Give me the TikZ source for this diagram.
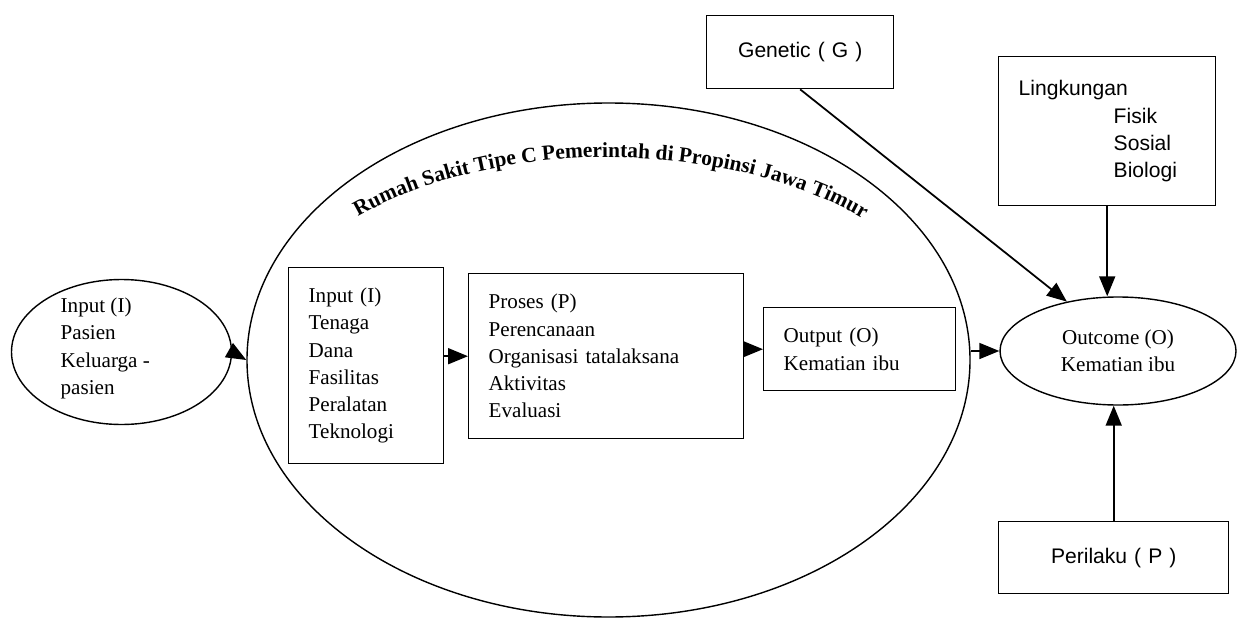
\documentclass[tikz,border=0pt]{standalone}
\usepackage{fontspec}
\setmainfont{Liberation Serif}
\newfontfamily\sansfont{Liberation Sans}
\usetikzlibrary{arrows.meta,shapes.geometric,decorations.text,positioning}

\begin{document}
\begin{tikzpicture}[line width=0.8pt,
  every node/.style={font=\fontsize{12}{15.5}\selectfont},
  sans/.style={font=\sansfont\fontsize{12}{15.5}\selectfont},
  kotak/.style={draw, rectangle, anchor=north west, align=left, inner xsep=0.4cm, inner ysep=0pt},
  lonjong/.style={draw, ellipse, inner sep=0pt},
  panah/.style={-{Triangle[length=0.4cm,width=0.32cm]}, line width=1pt}]
\useasboundingbox (0,0) rectangle (24.78,-12.36);

\node[lonjong, minimum width=4.4cm, minimum height=2.9cm] (pasien) at (2.43,-7.04) {};
\node[align=left, anchor=west, inner sep=0pt] (pasienteks) at (1.2,-6.97)
  {Input (I)\\Pasien\\Keluarga -\\pasien};
\node[lonjong, minimum width=14.46cm, minimum height=10.28cm] (rs) at (12.17,-7.2) {};
\path[decorate, decoration={text along path, text align=center,
  text={|\fontsize{12.2}{14}\selectfont\bfseries|Rumah Sakit Tipe C Pemerintah di Propinsi Jawa Timur}}]
  (rs.center) ++(138:7.1cm and 4.05cm) arc[start angle=138, end angle=41, x radius=7.1cm, y radius=4.05cm];

\node[kotak, text width=2.3cm, minimum height=3.92cm] (input) at (5.76,-5.34)
  {Input (I)\\Tenaga\\Dana\\Fasilitas\\Peralatan\\Teknologi};
\node[kotak, text width=4.7cm, minimum height=3.3cm] (proses) at (9.36,-5.46)
  {Proses (P)\\Perencanaan\\Organisasi tatalaksana\\Aktivitas\\Evaluasi};
\node[kotak, text width=3.04cm, minimum height=1.66cm] (output) at (15.26,-6.14)
  {Output (O)\\Kematian ibu};
\node[lonjong, align=center, minimum width=4.72cm, minimum height=2.16cm] (outcome) at (22.36,-7.02)
  {Outcome (O)\\Kematian ibu};

\node[kotak, sans, align=center, text width=2.94cm, minimum height=1.46cm] (genetik) at (14.12,-0.3)
  {Genetic ( G )};
\node[kotak, sans, text width=3.54cm, minimum height=2.98cm] (lingkungan) at (19.96,-1.12)
  {Lingkungan\\\hspace*{1.9cm}Fisik\\\hspace*{1.9cm}Sosial\\\hspace*{1.9cm}Biologi};
\node[kotak, sans, align=center, text width=3.8cm, minimum height=1.44cm] (perilaku) at (19.96,-10.42)
  {Perilaku ( P )};

\draw[panah] (pasien.east) -- (rs.west);
\draw[panah] (input.east |- proses.west) -- (proses.west);
\draw[panah] (proses.east |- output.west) -- (output.west);
\draw[panah] (rs.east |- outcome.west) -- (outcome.west);
\draw[panah] (genetik.south) -- (outcome.136);
\draw[panah] (lingkungan.south) -- (lingkungan.south |- outcome.north);
\draw[panah] (perilaku.north) -- (perilaku.north |- outcome.south);
\end{tikzpicture}
\end{document}
